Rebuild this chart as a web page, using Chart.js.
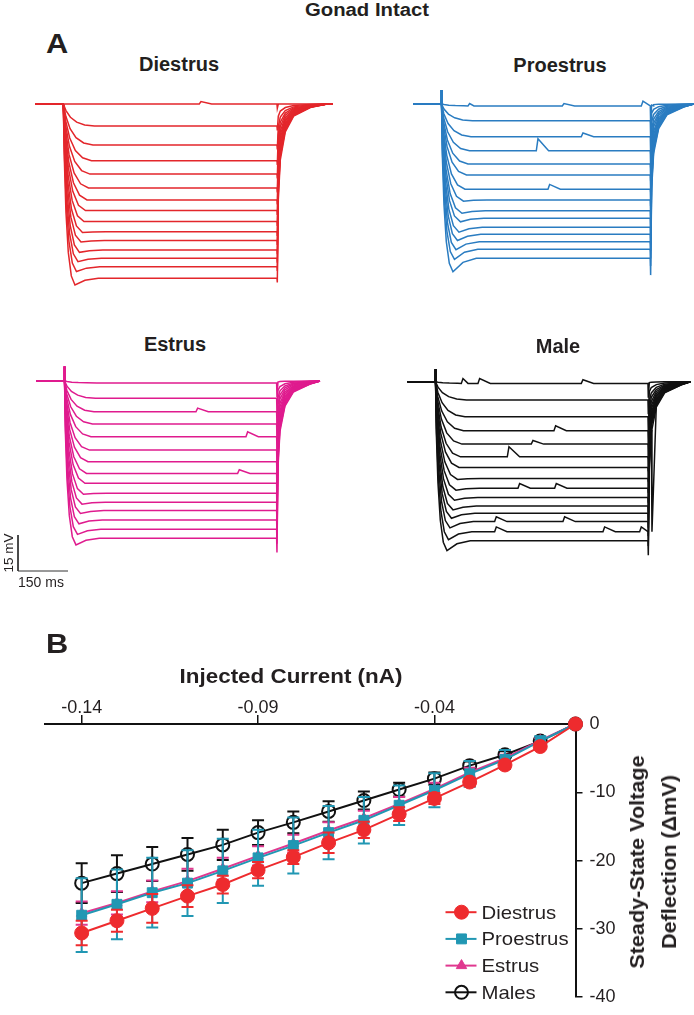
<!DOCTYPE html>
<html>
<head>
<meta charset="utf-8">
<script src="https://cdn.jsdelivr.net/npm/chart.js@4.4.1/dist/chart.umd.min.js"></script>
<style>
  body { margin: 0; background: #fff; }
  #fig { position: relative; width: 694px; height: 1015px; overflow: hidden;
         font-family: 'Liberation Sans', Arial, Helvetica, sans-serif; color: #231f20; }
  canvas { position: absolute; }
  .t { position: absolute; white-space: nowrap; line-height: 1; }
  .b { font-weight: bold; }
</style>
</head>
<body>
<div id="fig">
  <canvas id="cDiestrus"></canvas>
  <canvas id="cProestrus"></canvas>
  <canvas id="cEstrus"></canvas>
  <canvas id="cMale"></canvas>
  <canvas id="cIV"></canvas>

  <div class="t b" style="left:367px; top:2px; font-size:17.5px; transform:translateX(-50%) scaleX(1.16)">Gonad Intact</div>
  <div class="t b" style="left:46px; top:30px; font-size:28px; transform-origin:left; transform:scaleX(1.1)">A</div>
  <div class="t b" style="left:179px; top:54px; font-size:20px; transform:translateX(-50%)">Diestrus</div>
  <div class="t b" style="left:560px; top:55px; font-size:20px; transform:translateX(-50%)">Proestrus</div>
  <div class="t b" style="left:175px; top:334px; font-size:20px; transform:translateX(-50%)">Estrus</div>
  <div class="t b" style="left:558px; top:336px; font-size:20px; transform:translateX(-50%)">Male</div>
  <div class="t" style="left:9px; top:553px; font-size:13.5px; transform:translate(-50%,-50%) rotate(-90deg)">15 mV</div>
  <div class="t" style="left:18px; top:575px; font-size:14px">150 ms</div>

  <div class="t b" style="left:46px; top:630px; font-size:28px; transform-origin:left; transform:scaleX(1.1)">B</div>
  <div class="t b" style="left:291px; top:666px; font-size:20px; transform:translateX(-50%) scaleX(1.12)">Injected Current (nA)</div>
  <div class="t b" style="left:653px; top:862px; font-size:20px; line-height:32px; text-align:center; transform:translate(-50%,-50%) rotate(-90deg) scaleX(1.08)">Steady-State Voltage<br>Deflection (&Delta;mV)</div>
</div>

<script>
// ---------- Panel A: sweeps, mV below rest at the end of each current step ----------
const diestrusSteady  = [0, 9.2, 17.1, 23.6, 29.2, 35.0, 40.0, 44.4, 49.0, 53.2, 56.9, 60.8, 64.3, 67.8, 72.6];
const proestrusSteady = [0.8, 7.0, 13.6, 19.5, 25.0, 29.6, 35.5, 40.0, 44.5, 47.6, 51.4, 54.3, 57.4, 60.5, 64.3];
const estrusSteady    = [0.8, 7.2, 12.8, 17.9, 23.2, 28.8, 33.6, 38.5, 42.6, 46.8, 50.5, 54.0, 57.9, 61.8, 65.5];
const maleSteady      = [0.7, 7.6, 14.6, 20.4, 26.0, 31.3, 35.7, 40.3, 44.4, 48.2, 51.8, 54.8, 58.3, 62.5, 66.3];

// extra dip at the start of the step (sag), mV
const diestrusSag  = [0, 0, 0, 0, 0, 0, 0, 0, 0, 0.3, 0.6, 1.0, 1.4, 2.0, 2.8];
const proestrusSag = [0, 0, 0, 0, 0, 0, 0, 0.5, 1.0, 1.5, 2.0, 2.6, 3.3, 4.2, 5.6];
const estrusSag    = [0, 0, 0, 0, 0, 0, 0, 0, 0, 0.4, 0.8, 1.2, 1.6, 2.1, 2.8];
const maleSag      = [0, 0, 0, 0, 0, 0, 0, 0.4, 0.8, 1.2, 1.6, 2.1, 2.6, 3.3, 4.1];

// sweep start, step end, sweep end (ms from step onset)
const diestrusSweep  = [-85, 641, 809];
const proestrusSweep = [-83, 627, 757];
const estrusSweep    = [-83, 637, 767];
const maleSweep      = [-83, 638, 765];

// spontaneous bumps: [sweep index, ms, mV]
const diestrusEvents  = [[0, 410, 1]];
const proestrusEvents = [[0, 82, 1], [0, 365, 1], [0, 602, 2], [1, 77, 2], [2, 422, 1.5],
                         [3, 147, 1.5], [3, 287, 5], [6, 322, 2], [8, 127, 2]];
const estrusEvents    = [[2, 397, 1.5], [4, 547, 2], [7, 522, 1.5]];
const maleEvents      = [[0, 80, 2], [0, 130, 2], [0, 440, 1.5], [1, 120, 1.5], [3, 358, 2],
                         [4, 290, 1.5], [5, 218, 4.2], [8, 250, 2], [8, 360, 2], [12, 180, 2],
                         [12, 385, 2], [13, 180, 2], [13, 505, 2], [13, 615, 2]];

// ---------- Panel B: steady-state deflection vs injected current ----------
const currentNA     = [-0.14, -0.13, -0.12, -0.11, -0.10, -0.09, -0.08, -0.07, -0.06, -0.05, -0.04, -0.03, -0.02, -0.01, 0];
const diestrusMean  = [-30.6, -28.8, -27.0, -25.2, -23.5, -21.4, -19.5, -17.4, -15.5, -13.2, -10.9, -8.5, -6.0, -3.3, 0];
const proestrusMean = [-28.0, -26.4, -24.7, -23.3, -21.5, -19.6, -17.8, -15.9, -14.1, -11.9, -9.7, -7.3, -5.2, -2.5, 0];
const estrusMean    = [-27.7, -26.2, -24.5, -23.0, -21.2, -19.3, -17.5, -15.6, -13.8, -11.7, -9.5, -7.1, -5.0, -2.4, 0];
const malesMean     = [-23.3, -21.9, -20.5, -19.1, -17.7, -15.9, -14.4, -12.8, -11.2, -9.6, -8.0, -6.1, -4.5, -2.5, 0];
const diestrusSem   = [1.8, 1.6, 2.1, 1.6, 1.3, 1.2, 1.0, 1.5, 1.2, 1.0, 0.8, 0.6, 0.5, 0.3, 0];
const proestrusSem  = [5.4, 5.1, 5.1, 4.8, 4.7, 4.1, 4.1, 3.9, 3.4, 2.9, 2.5, 1.9, 1.4, 0.7, 0];
const estrusSem     = [1.7, 1.7, 1.6, 1.8, 1.6, 1.4, 1.3, 1.2, 1.1, 1.0, 0.9, 0.7, 0.5, 0.3, 0];
const malesSem      = [2.9, 2.7, 2.5, 2.4, 2.2, 1.8, 1.6, 1.5, 1.3, 1.0, 0.9, 0.6, 0.5, 0.3, 0];
const xTicks = [-0.14, -0.09, -0.04];
const yTicks = [0, -10, -20, -30, -40];

const RED = '#ee2b2e', TEAL = '#2197b3', PINK = '#e0388f', BLACK = '#111';

// ---------- sweep drawing ----------
const MS_PER_PX = 3, PX_PER_MV = 2.4;
// shape of the charging / discharging curves (fraction of the full deflection)
const riseT = [3, 8, 15, 24, 35];
const riseF = [0.3, 0.6, 0.82, 0.95, 1];
const fallT = [4, 10, 25, 50, 100, 150];
const fallF = [0.55, 0.32, 0.16, 0.07, 0.02, 0];

function sweepPoints(p, i) {
  const L = p.steady[i], S = p.sag[i], P = L + S;
  const k = 2.8 - 1.8 * i / (p.steady.length - 1);   // small steps settle slower
  const [t0, tOff, tEnd] = p.sweep;
  const riseEnd = 35 * k + 70;
  const pts = [[t0, 0], [0, 0]];
  if (p.onArt) pts.push([0.5, p.onArt], [1, 0]);
  riseT.forEach((t, j) => pts.push([t * k, -P * riseF[j]]));
  pts.push([35 * k + 30, -(L + 0.3 * S)], [riseEnd, -L]);
  p.events.filter(e => e[0] === i && (e[1] > riseEnd || L < 2)).forEach(([, t, a]) => {
    pts.push([t - 2, -L], [t + 3, -L + a], [t + 35, -L]);
  });
  pts.push([tOff, -L], [tOff + 1, -(L + p.offArt)]);
  fallT.forEach((t, j) => { if (tOff + t < tEnd) pts.push([tOff + t, -L * fallF[j]]); });
  pts.push([tEnd, 0]);
  pts.sort((a, b) => a[0] - b[0]);
  return pts.map(([x, y]) => ({ x, y }));
}

function drawSweeps(id, p, extra) {
  const el = document.getElementById(id);
  const b = p.box;
  el.width = b.w; el.height = b.h;
  el.style.left = b.left + 'px'; el.style.top = b.top + 'px';
  const datasets = p.steady.map((L, i) => ({
    data: sweepPoints(p, i),
    borderColor: p.color, borderWidth: 1.5, pointRadius: 0, tension: 0, fill: false
  }));
  if (extra) datasets.push(...extra(b));
  new Chart(el, {
    type: 'line',
    data: { datasets },
    options: {
      responsive: false, animation: false, events: [],
      layout: { padding: 0 },
      plugins: { legend: { display: false }, tooltip: { enabled: false } },
      scales: {
        x: { type: 'linear', display: false,
             min: (b.left - b.onsetX) * MS_PER_PX, max: (b.left + b.w - b.onsetX) * MS_PER_PX },
        y: { type: 'linear', display: false,
             max: (b.baseY - b.top) / PX_PER_MV, min: -(b.top + b.h - b.baseY) / PX_PER_MV }
      }
    }
  });
}

drawSweeps('cDiestrus', {
  steady: diestrusSteady, sag: diestrusSag, sweep: diestrusSweep, events: diestrusEvents,
  onArt: 0, offArt: 1.8, color: '#e3262b',
  box: { left: 0, top: 80, w: 347, h: 220, onsetX: 63.3, baseY: 104 }
});
drawSweeps('cProestrus', {
  steady: proestrusSteady, sag: proestrusSag, sweep: proestrusSweep, events: proestrusEvents,
  onArt: 5.8, offArt: 7, color: '#2a7cc1',
  box: { left: 347, top: 80, w: 347, h: 220, onsetX: 441.3, baseY: 104 }
});
drawSweeps('cEstrus', {
  steady: estrusSteady, sag: estrusSag, sweep: estrusSweep, events: estrusEvents,
  onArt: 6, offArt: 6, color: '#df1b8e',
  box: { left: 0, top: 355, w: 347, h: 240, onsetX: 64.3, baseY: 381 }
}, b => {
  // 15 mV / 150 ms scale bar, corner placed at page (18, 571)
  const cx = (18 - b.onsetX) * MS_PER_PX, cy = -(571 - b.baseY) / PX_PER_MV;
  return [{
    data: [{ x: cx, y: cy + 15 }, { x: cx, y: cy }, { x: cx + 150, y: cy }],
    borderColor: '#333', borderWidth: 1, pointRadius: 0, tension: 0, fill: false
  }];
});
drawSweeps('cMale', {
  steady: maleSteady, sag: maleSag, sweep: maleSweep, events: maleEvents,
  onArt: 5.2, offArt: 6, color: '#111111',
  box: { left: 347, top: 355, w: 347, h: 220, onsetX: 435.3, baseY: 381.7 }
});

// ---------- IV plot ----------
const errorBars = {
  id: 'errorBars',
  beforeDatasetDraw(chart, args) {
    const ds = chart.data.datasets[args.index];
    if (!ds.errors) return;
    const ctx = chart.ctx, y = chart.scales.y;
    ctx.save();
    ctx.strokeStyle = ds.borderColor;
    ctx.lineWidth = 2;
    args.meta.data.forEach((pt, k) => {
      const e = ds.errors[k];
      if (!e) return;
      const v = ds.data[k].y;
      const top = y.getPixelForValue(v + e), bot = y.getPixelForValue(v - e);
      ctx.beginPath();
      ctx.moveTo(pt.x, top); ctx.lineTo(pt.x, bot);
      ctx.moveTo(pt.x - 6, top); ctx.lineTo(pt.x + 6, top);
      ctx.moveTo(pt.x - 6, bot); ctx.lineTo(pt.x + 6, bot);
      ctx.stroke();
    });
    ctx.restore();
  }
};

const boxLegend = {
  id: 'boxLegend',
  afterDraw(chart) {
    const ctx = chart.ctx;
    const x0 = chart.chartArea.right - 130, y0 = chart.chartArea.bottom - 85;
    chart.data.datasets.forEach((ds, i) => {
      const y = y0 + i * 26.7;
      ctx.save();
      ctx.strokeStyle = ds.borderColor;
      ctx.lineWidth = 2;
      ctx.beginPath(); ctx.moveTo(x0, y); ctx.lineTo(x0 + 31, y); ctx.stroke();
      ctx.fillStyle = ds.pointBackgroundColor;
      ctx.lineWidth = ds.pointBorderWidth;
      if (Chart.helpers && Chart.helpers.drawPoint) {
        Chart.helpers.drawPoint(ctx, { pointStyle: ds.pointStyle, radius: ds.pointRadius,
          borderWidth: ds.pointBorderWidth, rotation: 0 }, x0 + 16, y);
      }
      ctx.fillStyle = '#231f20';
      ctx.font = '18.5px "Liberation Sans", Arial, sans-serif';
      ctx.textBaseline = 'alphabetic';
      ctx.translate(x0 + 36, y + 6.5);
      ctx.scale(1.1, 1);
      ctx.fillText(ds.label, 0, 0);
      ctx.restore();
    });
  }
};

const toPts = vals => vals.map((v, k) => ({ x: currentNA[k], y: v }));
const ivCanvas = document.getElementById('cIV');
ivCanvas.width = 694; ivCanvas.height = 395;
ivCanvas.style.left = '0px'; ivCanvas.style.top = '620px';
const tickFont = { family: '"Liberation Sans", Arial, sans-serif', size: 18 };

new Chart(ivCanvas, {
  type: 'line',
  data: {
    datasets: [
      { label: 'Diestrus', data: toPts(diestrusMean), errors: diestrusSem,
        borderColor: RED, pointBackgroundColor: RED, pointBorderColor: RED,
        pointStyle: 'circle', pointRadius: 7, pointBorderWidth: 1, borderWidth: 2, clip: false },
      { label: 'Proestrus', data: toPts(proestrusMean), errors: proestrusSem,
        borderColor: TEAL, pointBackgroundColor: TEAL, pointBorderColor: TEAL,
        pointStyle: 'rect', pointRadius: 7, pointBorderWidth: 1, borderWidth: 2, clip: false },
      { label: 'Estrus', data: toPts(estrusMean), errors: estrusSem,
        borderColor: PINK, pointBackgroundColor: PINK, pointBorderColor: PINK,
        pointStyle: 'triangle', pointRadius: 6, pointBorderWidth: 1, borderWidth: 2, clip: false },
      { label: 'Males', data: toPts(malesMean), errors: malesSem,
        borderColor: BLACK, pointBackgroundColor: 'rgba(0,0,0,0)', pointBorderColor: BLACK,
        pointStyle: 'circle', pointRadius: 6.5, pointBorderWidth: 2, borderWidth: 2, clip: false }
    ]
  },
  options: {
    responsive: false, animation: false, events: [],
    layout: { padding: { left: 45, right: 0, top: 0, bottom: 13 } },
    plugins: { legend: { display: false }, tooltip: { enabled: false } },
    scales: {
      x: {
        type: 'linear', position: 'top', min: -0.1504, max: 0,
        afterBuildTicks: s => { s.ticks = xTicks.map(v => ({ value: v })); },
        afterFit: s => { s.height = 104; },
        grid: { drawOnChartArea: false, drawTicks: true, tickLength: 9, color: '#111', lineWidth: 1.5 },
        border: { display: true, color: '#111', width: 2 },
        ticks: { color: '#231f20', font: tickFont, padding: -4, maxRotation: 0,
                 callback: v => v.toFixed(2) }
      },
      y: {
        type: 'linear', position: 'right', min: -40, max: 0,
        afterBuildTicks: s => { s.ticks = yTicks.map(v => ({ value: v })); },
        afterFit: s => { s.width = 118.5; },
        grid: { drawOnChartArea: false, drawTicks: true, tickLength: 7, color: '#111', lineWidth: 1.5 },
        border: { display: true, color: '#111', width: 2 },
        ticks: { color: '#231f20', font: tickFont, padding: 7, callback: v => String(v) }
      }
    }
  },
  plugins: [errorBars, boxLegend]
});
</script>
</body>
</html>
